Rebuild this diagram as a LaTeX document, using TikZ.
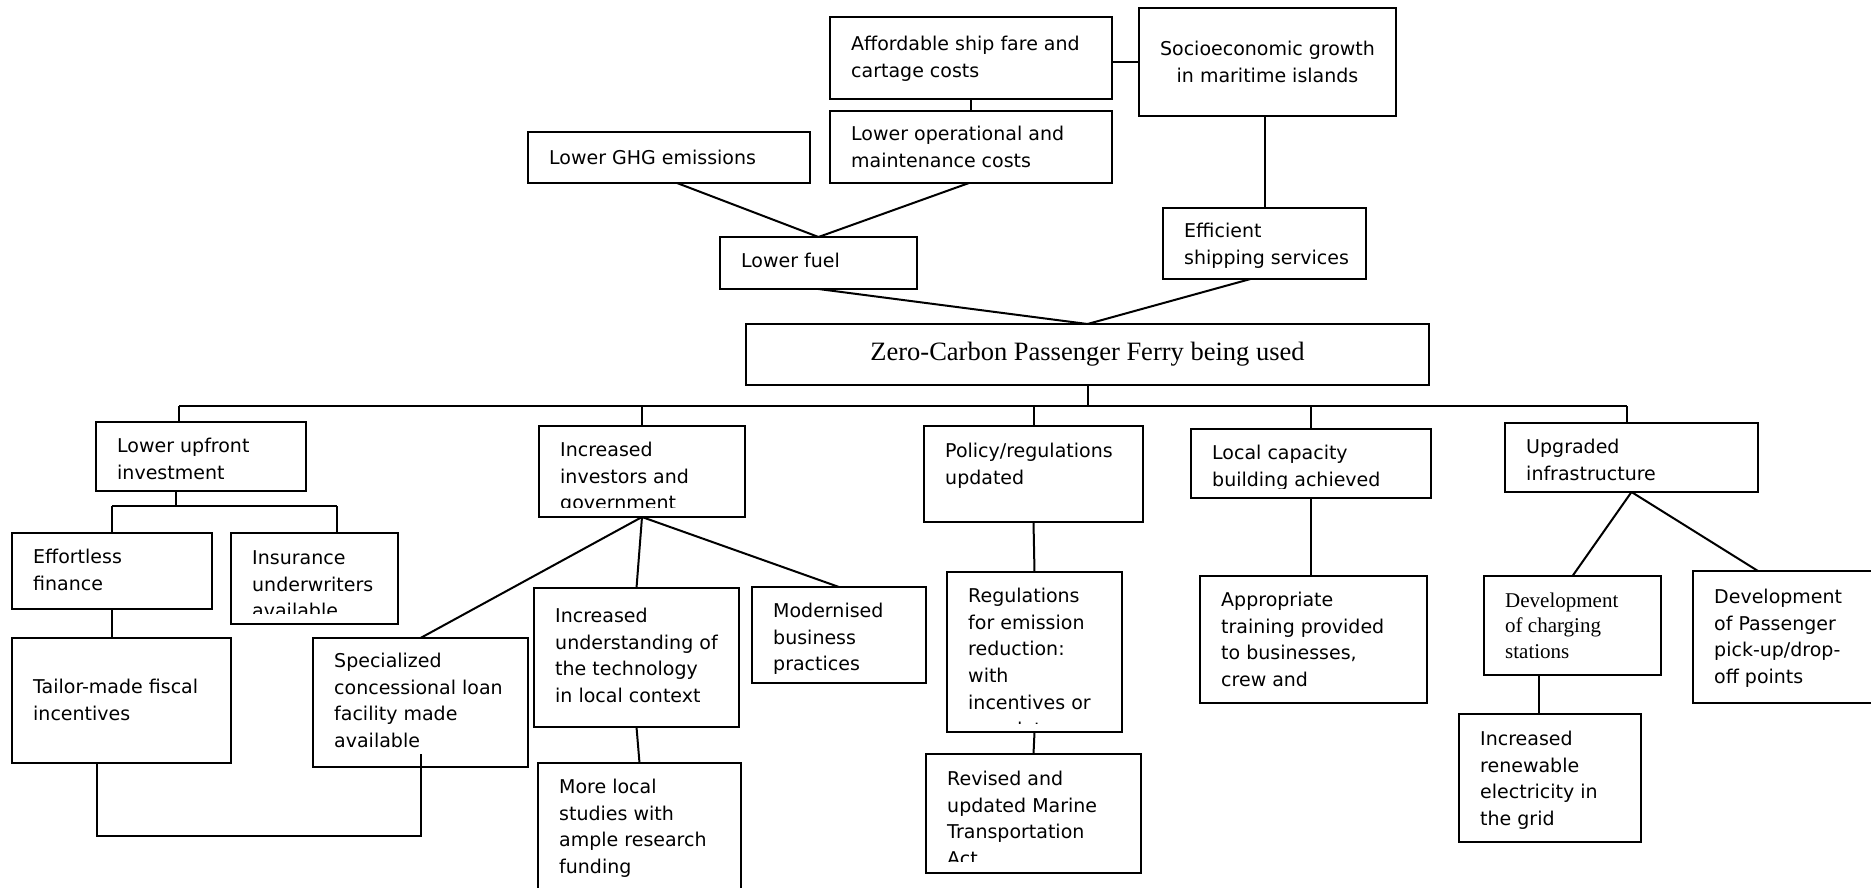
\documentclass[tikz,border=0pt]{standalone}
\usepackage{fontspec}
\setmainfont{DejaVu Sans}
\newfontfamily\serifface{Liberation Serif}
\usetikzlibrary{calc}

\tikzset{
  cbox/.style={draw, rectangle, line width=2.6pt, inner sep=0pt, outer sep=0pt, anchor=north west},
  ftext/.style={anchor=north west, inner sep=0pt, align=left, font=\fontsize{19}{26.8}\selectfont},
  link/.style={line width=2pt}
}

% #1 name, #2 #3 top-left, #4 #5 bottom-right, #6 first baseline, #7 lower edge of text area, #8 text
\newcommand{\flowbox}[8]{%
  \node[cbox, minimum width={(#4-#2)*1pt}, minimum height={(#5-#3)*1pt}] (#1) at (#2,#3) {};
  \begin{scope}
    \clip (#2,#3) rectangle (#4,#7);
    \node[ftext] (#1-t) at (#2+21,#6-20) {\rule{0pt}{20pt}#8};
  \end{scope}}

\begin{document}
\begin{tikzpicture}[x=1pt, y=-1pt]
\clip (0,0) rectangle (1871,887);
\fill[white] (0,0) rectangle (1871,887);

% upper chain of outcomes
\flowbox{aff}{830}{17}{1112}{99}{50}{89}{Affordable ship fare and\\cartage costs}
\node[cbox, minimum width=257pt, minimum height=108pt] (socio) at (1139,8) {};
\node[anchor=north, inner sep=0pt, align=center, font=\fontsize{19}{26.8}\selectfont] (socio-t) at (1267.5,35) {\rule{0pt}{20pt}Socioeconomic growth\\in maritime islands};
\flowbox{lop}{830}{111}{1112}{183}{140}{173}{Lower operational and\\maintenance costs}
\flowbox{ghg}{528}{132}{810}{183}{164}{173}{Lower GHG emissions}
\flowbox{fuel}{720}{237}{917}{289}{267}{279}{Lower fuel}
\flowbox{eff}{1163}{208}{1366}{279}{237}{269}{Efficient\\shipping services}

% central outcome
\node[cbox, minimum width=683pt, minimum height=61pt] (zero) at (746,324) {};
\node[anchor=base, inner sep=0pt, font=\serifface\fontsize{26.5}{30}\selectfont] (zero-t) at (1087.5,360) {Zero-Carbon Passenger Ferry being used};

% first level of preconditions
\flowbox{lup}{96}{422}{306}{491}{452}{481}{Lower upfront\\investment}
\flowbox{inv}{539}{426}{745}{517}{456}{507}{Increased\\investors and\\government}
\flowbox{pol}{924}{426}{1143}{522}{457}{512}{Policy/regulations\\updated}
\flowbox{loc}{1191}{429}{1431}{498}{459}{488}{Local capacity\\building achieved}
\flowbox{upg}{1505}{423}{1758}{492}{453}{482}{Upgraded\\infrastructure}

% lower levels
\flowbox{effin}{12}{533}{212}{609}{563}{599}{Effortless\\finance}
\flowbox{ins}{231}{533}{398}{624}{564}{613}{Insurance\\underwriters\\available}
\flowbox{tail}{12}{638}{231}{763}{693}{753}{Tailor-made fiscal\\incentives}
\flowbox{spec}{313}{638}{528}{767}{667}{757}{Specialized\\concessional loan\\facility made\\available}
\flowbox{und}{534}{588}{739}{727}{622}{717}{Increased\\understanding of\\the technology\\in local context}
\flowbox{mod}{752}{587}{926}{683}{617}{673}{Modernised\\business\\practices}
\flowbox{more}{538}{763}{741}{895}{793}{877}{More local\\studies with\\ample research\\funding}
\flowbox{reg}{947}{572}{1122}{732}{602}{723}{Regulations\\for emission\\reduction:\\with\\incentives or\\mandates}
\flowbox{rev}{926}{754}{1141}{873}{785}{861}{Revised and\\updated Marine\\Transportation\\Act}
\flowbox{app}{1200}{576}{1427}{703}{606}{693}{Appropriate\\training provided\\to businesses,\\crew and}
\begin{scope}[ftext/.append style={font=\serifface\fontsize{21}{25.6}\selectfont}]
\flowbox{chg}{1484}{576}{1661}{675}{607}{665}{Development\\of charging\\stations}
\end{scope}
\flowbox{pas}{1693}{571}{1890}{703}{603}{693}{Development\\of Passenger\\pick-up/drop-\\off points}
\flowbox{ren}{1459}{714}{1641}{842}{745}{832}{Increased\\renewable\\electricity in\\the grid}

% connectors above the central outcome
\draw[link] ([yshift=-4pt]aff.east) -- ([yshift=-4pt]aff.east -| socio.west);
\draw[link] (aff.south) -- (lop.north);
\draw[link] ([xshift=8pt]ghg.south) -- (fuel.north);
\draw[link] ([xshift=-2pt]lop.south) -- (fuel.north);
\draw[link] (eff.north |- socio.south) -- (eff.north);
\draw[link] (fuel.south) -- (zero.north);
\draw[link] ([xshift=-14pt]eff.south) -- (zero.north);

% distribution bus below the central outcome
\coordinate (busL) at (179,406);
\coordinate (busR) at (1627,406);
\draw[link] (zero.south) -- (zero.south |- busL);
\draw[link] (busL) -- (busR);
\draw[link] (busL) -- (busL |- lup.north);
\draw[link] (inv.north |- busL) -- (inv.north);
\draw[link] (pol.north |- busL) -- (pol.north);
\draw[link] (loc.north |- busL) -- (loc.north);
\draw[link] (busR) -- (busR |- upg.north);

% finance branch
\coordinate (fk) at (176,506);
\coordinate (fkL) at (112,506);
\coordinate (fkR) at (337,506);
\draw[link] (fk |- lup.south) -- (fk);
\draw[link] (fkL) -- (fkR);
\draw[link] (fkL) -- (fkL |- effin.north);
\draw[link] (fkR) -- (fkR |- ins.north);
\draw[link] (effin.south) -- (effin.south |- tail.north);
\coordinate (brL) at (97,836);
\coordinate (brR) at (421,836);
\coordinate (brEnd) at (421,754);
\draw[link] (brL |- tail.south) -- (brL) -- (brR) -- (brEnd);

% investors branch
\draw[link] (inv.south) -- (spec.north);
\draw[link] (inv.south) -- (und.north);
\draw[link] (inv.south) -- (mod.north);
\draw[link] (und.south) -- (more.north);

% policy, capacity and infrastructure branches
\draw[link] (pol.south) -- (reg.north);
\draw[link] (reg.south) -- (rev.north);
\draw[link] (loc.south) -- (loc.south |- app.north);
\draw[link] (upg.south) -- (chg.north);
\draw[link] (upg.south) -- ([xshift=65pt]pas.north west);
\draw[link] ([xshift=-34pt]chg.south) -- ([xshift=-34pt]chg.south |- ren.north);
\end{tikzpicture}
\end{document}
